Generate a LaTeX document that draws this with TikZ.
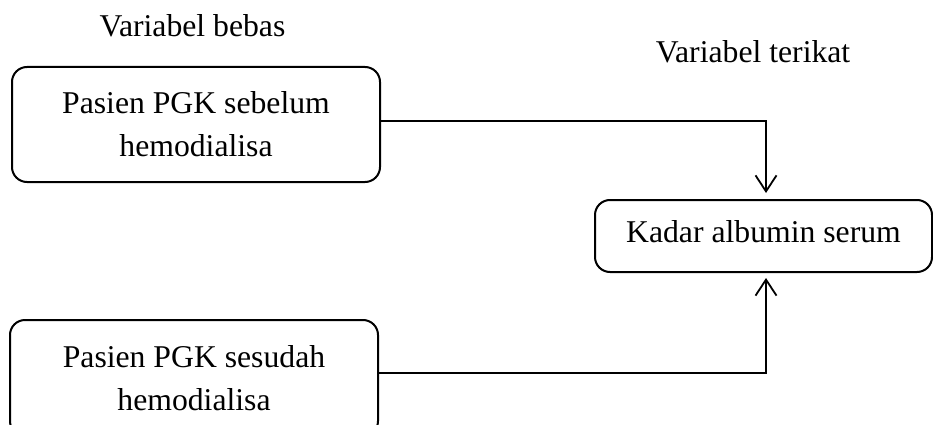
\documentclass[tikz,border=0pt]{standalone}
\usepackage{fontspec}
\setmainfont{Liberation Serif}
\usetikzlibrary{arrows.meta}
\begin{document}
\begin{tikzpicture}[x=1pt,y=-1pt,
  txt/.style={font=\fontsize{31.7}{43}\selectfont, inner sep=0pt},
  box/.style={txt, draw, line width=2pt, rounded corners=15pt, align=center},
  conn/.style={line width=1.8pt, -{Straight Barb[length=16pt,width=21pt,line width=1.8pt]}}]
\useasboundingbox (0,0) rectangle (933,425);
\node[txt, anchor=base] (lb) at (192.5,37) {Variabel bebas};
\node[txt, anchor=base] (lt) at (753,63) {Variabel terikat};
\node[box, minimum width=368pt, minimum height=115pt] (b1) at (196,124.5) {Pasien PGK sebelum\\hemodialisa};
\node[box, minimum width=368pt, minimum height=116pt] (b2) at (194,378) {Pasien PGK sesudah\\hemodialisa};
\node[box, minimum width=337pt, minimum height=72pt, text depth=8pt] (k) at (763.5,236) {Kadar albumin serum};
\draw[conn, shorten >=6pt] ([yshift=3.5pt]b1.east) -| ([xshift=2.5pt]k.north);
\draw[conn, shorten >=5pt] ([yshift=5pt]b2.east) -| ([xshift=2.5pt]k.south);
\end{tikzpicture}
\end{document}
